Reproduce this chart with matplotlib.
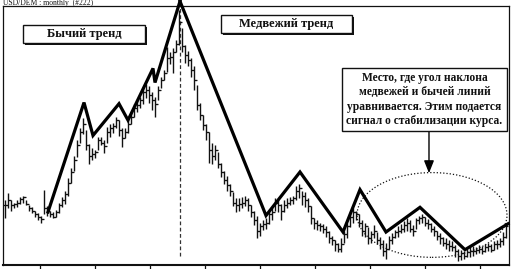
import numpy as np
import matplotlib
matplotlib.use("Agg")
import matplotlib.pyplot as plt
from matplotlib.patches import Ellipse, Rectangle

W, H, DPI = 515, 269, 100

# Monthly USD/DEM bars: high, low, close (DEM per USD)
high = [1.85, 1.91, 1.85, 1.83, 1.85, 1.88, 1.89, 1.85, 1.81, 1.79,
        1.76, 1.74, 1.72, 1.94, 1.80, 1.76, 1.75, 1.77, 1.83, 1.88,
        1.93, 2.04, 2.12, 2.23, 2.36, 2.46, 2.55, 2.45, 2.33, 2.29,
        2.28, 2.39, 2.39, 2.36, 2.47, 2.50, 2.51, 2.56, 2.53, 2.46,
        2.46, 2.53, 2.60, 2.67, 2.70, 2.73, 2.80, 2.84, 2.82, 2.77,
        2.73, 2.82, 2.90, 2.96, 3.15, 3.11, 3.14, 3.21, 3.47, 3.31,
        3.17, 3.12, 3.06, 2.99, 2.83, 2.68, 2.57, 2.50, 2.43, 2.34,
        2.32, 2.26, 2.17, 2.10, 2.06, 1.99, 1.92, 1.87, 1.87, 1.88,
        1.89, 1.87, 1.81, 1.76, 1.72, 1.66, 1.68, 1.70, 1.76, 1.78,
        1.87, 1.85, 1.82, 1.85, 1.87, 1.88, 1.89, 1.97, 1.99, 1.93,
        1.92, 1.87, 1.80, 1.70, 1.68, 1.66, 1.65, 1.63, 1.59, 1.55,
        1.51, 1.49, 1.53, 1.59, 1.66, 1.75, 1.78, 1.76, 1.73, 1.68,
        1.66, 1.62, 1.59, 1.64, 1.58, 1.54, 1.51, 1.49, 1.55, 1.57,
        1.60, 1.63, 1.65, 1.67, 1.70, 1.68, 1.64, 1.70, 1.72, 1.73,
        1.71, 1.69, 1.66, 1.63, 1.59, 1.57, 1.54, 1.53, 1.51, 1.50,
        1.47, 1.44, 1.43, 1.42, 1.44, 1.45, 1.46, 1.45, 1.47, 1.46,
        1.48, 1.49, 1.48, 1.50, 1.51, 1.53, 1.58, 1.66]
low = [1.70, 1.78, 1.76, 1.78, 1.79, 1.82, 1.83, 1.81, 1.76, 1.74,
       1.71, 1.68, 1.66, 1.73, 1.72, 1.71, 1.70, 1.71, 1.74, 1.79,
       1.82, 1.89, 2.00, 2.10, 2.22, 2.34, 2.41, 2.28, 2.16, 2.19,
       2.21, 2.28, 2.32, 2.25, 2.34, 2.39, 2.42, 2.46, 2.40, 2.30,
       2.38, 2.42, 2.50, 2.56, 2.60, 2.63, 2.67, 2.72, 2.68, 2.62,
       2.56, 2.70, 2.80, 2.87, 2.94, 3.01, 2.93, 3.11, 3.17, 3.11,
       3.02, 2.99, 2.90, 2.79, 2.62, 2.53, 2.45, 2.36, 2.17, 2.16,
       2.19, 2.12, 2.05, 1.99, 1.93, 1.89, 1.80, 1.75, 1.76, 1.78,
       1.80, 1.76, 1.71, 1.64, 1.53, 1.55, 1.60, 1.61, 1.65, 1.68,
       1.76, 1.75, 1.68, 1.75, 1.78, 1.81, 1.82, 1.85, 1.87, 1.81,
       1.79, 1.75, 1.65, 1.61, 1.60, 1.59, 1.57, 1.54, 1.49, 1.47,
       1.42, 1.41, 1.41, 1.49, 1.53, 1.62, 1.66, 1.68, 1.62, 1.55,
       1.54, 1.48, 1.49, 1.53, 1.48, 1.44, 1.38, 1.35, 1.44, 1.48,
       1.53, 1.54, 1.57, 1.58, 1.59, 1.58, 1.55, 1.61, 1.65, 1.66,
       1.63, 1.61, 1.58, 1.55, 1.51, 1.48, 1.46, 1.44, 1.42, 1.42,
       1.37, 1.33, 1.34, 1.35, 1.37, 1.37, 1.38, 1.39, 1.40, 1.39,
       1.41, 1.42, 1.41, 1.43, 1.44, 1.45, 1.47, 1.53]
close = [1.81, 1.85, 1.81, 1.82, 1.83, 1.86, 1.88, 1.82, 1.78, 1.76,
         1.73, 1.71, 1.69, 1.78, 1.76, 1.73, 1.71, 1.75, 1.81, 1.85,
         1.90, 2.00, 2.09, 2.19, 2.32, 2.43, 2.50, 2.32, 2.23, 2.24,
         2.26, 2.36, 2.34, 2.31, 2.43, 2.46, 2.48, 2.53, 2.45, 2.38,
         2.43, 2.50, 2.56, 2.63, 2.66, 2.70, 2.77, 2.79, 2.74, 2.70,
         2.67, 2.79, 2.87, 2.93, 3.06, 3.07, 3.11, 3.18, 3.36, 3.16,
         3.08, 3.04, 2.96, 2.87, 2.66, 2.57, 2.49, 2.43, 2.28, 2.23,
         2.28, 2.16, 2.09, 2.02, 1.98, 1.93, 1.83, 1.81, 1.82, 1.83,
         1.85, 1.81, 1.75, 1.68, 1.59, 1.63, 1.65, 1.66, 1.73, 1.75,
         1.83, 1.81, 1.76, 1.81, 1.83, 1.85, 1.87, 1.93, 1.95, 1.89,
         1.85, 1.80, 1.70, 1.66, 1.64, 1.63, 1.61, 1.58, 1.53, 1.51,
         1.48, 1.44, 1.48, 1.56, 1.63, 1.71, 1.75, 1.73, 1.66, 1.59,
         1.63, 1.53, 1.56, 1.59, 1.51, 1.48, 1.42, 1.44, 1.51, 1.54,
         1.58, 1.59, 1.61, 1.64, 1.66, 1.61, 1.59, 1.68, 1.70, 1.71,
         1.66, 1.65, 1.61, 1.59, 1.55, 1.53, 1.49, 1.48, 1.46, 1.45,
         1.42, 1.38, 1.40, 1.38, 1.41, 1.42, 1.42, 1.43, 1.44, 1.42,
         1.45, 1.46, 1.43, 1.48, 1.48, 1.50, 1.54, 1.63]

# Trend lines (month index, rate)
bull_t = [14.33, 26.33, 29.33, 38.0, 41.0, 49.33, 50.0, 58.33]
bull_p = [1.75, 2.68, 2.40, 2.67, 2.53, 2.97, 2.85, 3.54]
bear_t = [58.33, 87.0, 98.33, 112.67, 118.33, 127.0, 138.33, 153.33, 167.67]
bear_p = [3.54, 1.72, 2.09, 1.58, 1.94, 1.58, 1.79, 1.43, 1.65]
peak_t = 58.33

# Stabilisation zone
zone_t, zone_p = 142.33, 1.725
zone_w, zone_h = 50.0, 0.72
arrow_t = 141.33
arrow_from, arrow_to = 2.44, 2.08

tick_months = [11.67, 30.0, 48.33, 66.67, 85.0, 103.33, 121.67, 140.0, 158.33]

title = "USD/DEM : monthly  (#222)"
bull_label = "Бычий тренд"
bear_label = "Медвежий тренд"
note = ("Место, где угол наклона\n"
        "медвежей и бычей линий\n"
        "уравнивается. Этим подается\n"
        "сигнал о стабилизации курса.")

SERIF = ["Liberation Serif", "DejaVu Serif"]
INK = "#111111"

fig = plt.figure(figsize=(W / DPI, H / DPI), dpi=DPI)
fig.patch.set_facecolor("white")


def px_rect(x0, y0, x1, y1):
    return (x0 / W, 1 - y1 / H), (x1 - x0) / W, (y1 - y0) / H


ax = fig.add_axes([3 / W, 1 - 265 / H, 506 / W, 259 / H])
ax.set_xlim(-0.67, 168.0)
ax.set_ylim(1.30, 3.50)

months = np.arange(len(close))
opens = [close[0]] + close[:-1]
ax.vlines(months, low, high, color=INK, lw=1.0)
ax.hlines(close, months, months + 0.7, color=INK, lw=0.9)
ax.hlines(opens, months - 0.7, months, color=INK, lw=0.9)

ax.plot(bull_t, bull_p, color="black", lw=2.3, solid_joinstyle="miter",
        clip_on=False, zorder=5)
ax.plot(bear_t, bear_p, color="black", lw=2.3, solid_joinstyle="miter",
        clip_on=False, zorder=5)

ax.axvline(peak_t, ymin=0.035, ymax=0.995, color="#333333", lw=0.9,
           ls=(0, (3, 2)), zorder=1)

ax.add_patch(Ellipse((zone_t, zone_p), zone_w, zone_h, fill=False,
                     ls=(0, (1, 1.6)), lw=0.9, color=INK, zorder=6))
ax.annotate("", xy=(arrow_t, arrow_to), xytext=(arrow_t, arrow_from),
            arrowprops=dict(arrowstyle="-|>,head_length=0.75,head_width=0.3",
                            mutation_scale=10, lw=1.0, color="black",
                            shrinkA=0, shrinkB=0),
            annotation_clip=False, zorder=7)

ax.set_xticks(tick_months)
ax.set_xticklabels([])
ax.set_yticks([])
ax.tick_params(axis="x", direction="out", length=3, width=0.9, color=INK)
for side, sp in ax.spines.items():
    sp.set_color(INK)
    sp.set_linewidth(1.5 if side == "bottom" else 0.9)

fig.text(3 / W, 1 - 5 / H, title, fontsize=5.5, family=SERIF, color=INK,
         va="baseline", ha="left")


def label_box(x0, y0, x1, y1, text, size, weight="bold", shadow=True):
    if shadow:
        xy, w, h = px_rect(x0 + 2, y0 + 2, x1 + 2, y1 + 2)
        fig.add_artist(Rectangle(xy, w, h, transform=fig.transFigure,
                                 facecolor=INK, edgecolor="none", zorder=8))
    xy, w, h = px_rect(x0, y0, x1, y1)
    fig.add_artist(Rectangle(xy, w, h, transform=fig.transFigure,
                             facecolor="white", edgecolor=INK, lw=1.0,
                             zorder=9))
    fig.text((x0 + x1) / 2 / W, 1 - (y0 + y1) / 2 / H, text, fontsize=size,
             family=SERIF, color=INK, ha="center", va="center",
             fontweight=weight, linespacing=1.25, zorder=10)


label_box(23, 25, 145, 43, bull_label, 9)
label_box(221, 15, 352, 33, bear_label, 9)
label_box(342, 68, 507, 131, note, 8.3, shadow=False)

fig.savefig("out.png", dpi=DPI, facecolor="white")
